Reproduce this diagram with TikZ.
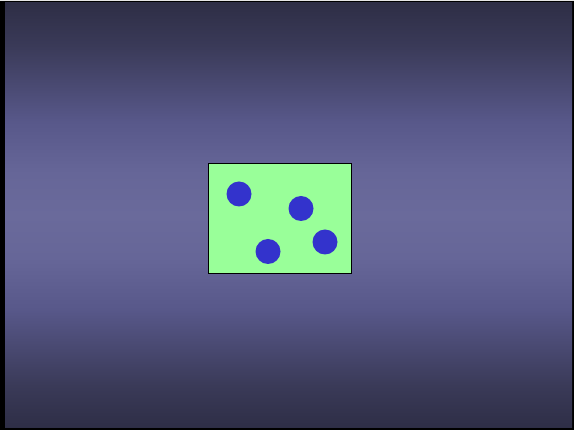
\documentclass[tikz,border=0pt]{standalone}
\usetikzlibrary{shadings}
\definecolor{bgA}{HTML}{2E2E46}
\definecolor{bgB}{HTML}{3A3A58}
\definecolor{bgC}{HTML}{58588A}
\definecolor{bgE}{HTML}{666698}
\definecolor{bgD}{HTML}{6A6A9B}
\definecolor{boxgreen}{HTML}{99FF99}
\definecolor{dotblue}{HTML}{3333CC}
\pgfdeclareverticalshading{bgshade}{100bp}{%
  color(0bp)=(bgA); color(25bp)=(bgA); color(30bp)=(bgB); color(39bp)=(bgC);
  color(45bp)=(bgE); color(50bp)=(bgD); color(55bp)=(bgE); color(61bp)=(bgC); color(70bp)=(bgB); color(75bp)=(bgA); color(100bp)=(bgA)}
\tikzset{
  dot/.style={circle, fill=dotblue, inner sep=0pt, minimum size=25pt},
  greenbox/.style={draw=black, fill=boxgreen, line width=0.8pt}
}
\begin{document}
\begin{tikzpicture}[x=1pt,y=-1pt]
\useasboundingbox (0,0) rectangle (574,430);
\fill[gray!20] (0,0) rectangle (574,430);
\fill[black] (0,1) rectangle (574,430);
\shade[shading=bgshade] (5,3) rectangle (572,428);
\draw[greenbox] (208,163) rectangle (351,273);
\node[dot] (d1) at (239,194) {};
\node[dot] (d2) at (301,208.5) {};
\node[dot] (d3) at (268,251.5) {};
\node[dot] (d4) at (325,242) {};
\end{tikzpicture}
\end{document}
